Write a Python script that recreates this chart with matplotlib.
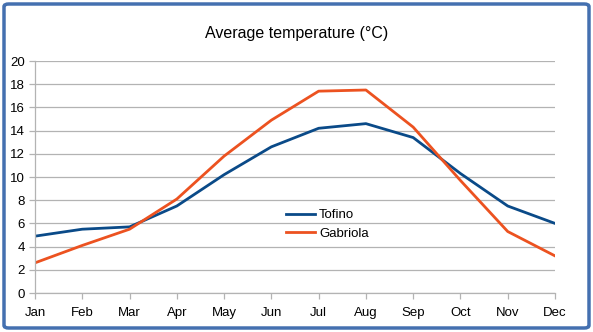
import matplotlib
matplotlib.use('Agg')
import matplotlib.pyplot as plt
from matplotlib.patches import FancyBboxPatch

# Average monthly temperatures
months = ['Jan', 'Feb', 'Mar', 'Apr', 'May', 'Jun', 'Jul', 'Aug', 'Sep', 'Oct', 'Nov', 'Dec']
tofino = [4.9, 5.5, 5.7, 7.5, 10.2, 12.6, 14.2, 14.6, 13.4, 10.3, 7.5, 6.0]
gabriola = [2.6, 4.1, 5.5, 8.1, 11.8, 14.9, 17.4, 17.5, 14.3, 9.7, 5.3, 3.2]

plt.rcParams['font.family'] = ['Liberation Sans', 'DejaVu Sans']

fig = plt.figure(figsize=(5.93, 3.32), dpi=100)
ax = fig.add_axes([35 / 593, 39 / 332, 520 / 593, 232 / 332])

x = range(len(months))
ax.plot(x, tofino, color='#0a4a88', lw=2.0, label='Tofino', solid_joinstyle='round')
ax.plot(x, gabriola, color='#ec5220', lw=2.0, label='Gabriola', solid_joinstyle='round')

ax.set_xlim(0, len(months) - 1)
ax.set_ylim(0, 20)
ax.set_yticks(range(0, 21, 2))
ax.set_xticks(list(x))
ax.set_xticklabels(months)
ax.grid(axis='y', color='#b3b3b3', lw=0.9)
ax.set_axisbelow(True)
for side in ['top', 'right']:
    ax.spines[side].set_visible(False)
for side in ['left', 'bottom']:
    ax.spines[side].set_color('#b3b3b3')
    ax.spines[side].set_linewidth(0.9)
ax.tick_params(axis='both', colors='#b3b3b3', labelcolor='black', labelsize=9.5, length=4, width=0.9)
ax.tick_params(axis='x', pad=6)

leg = ax.legend(loc='center left', bbox_to_anchor=(0.46, 0.295), frameon=False,
                fontsize=9.5, handlelength=2.2, handletextpad=0.3, labelspacing=0.5)

fig.text(0.5, 0.9, 'Average temperature (°C)', ha='center', va='center', fontsize=11.5)

border = FancyBboxPatch((4 / 593, 4 / 332), 585 / 593, 324 / 332,
                        boxstyle='round,pad=0,rounding_size=0.008',
                        transform=fig.transFigure, fill=False,
                        edgecolor='#4470b0', lw=2.5)
fig.patches.append(border)

fig.savefig('out.png', dpi=100)
